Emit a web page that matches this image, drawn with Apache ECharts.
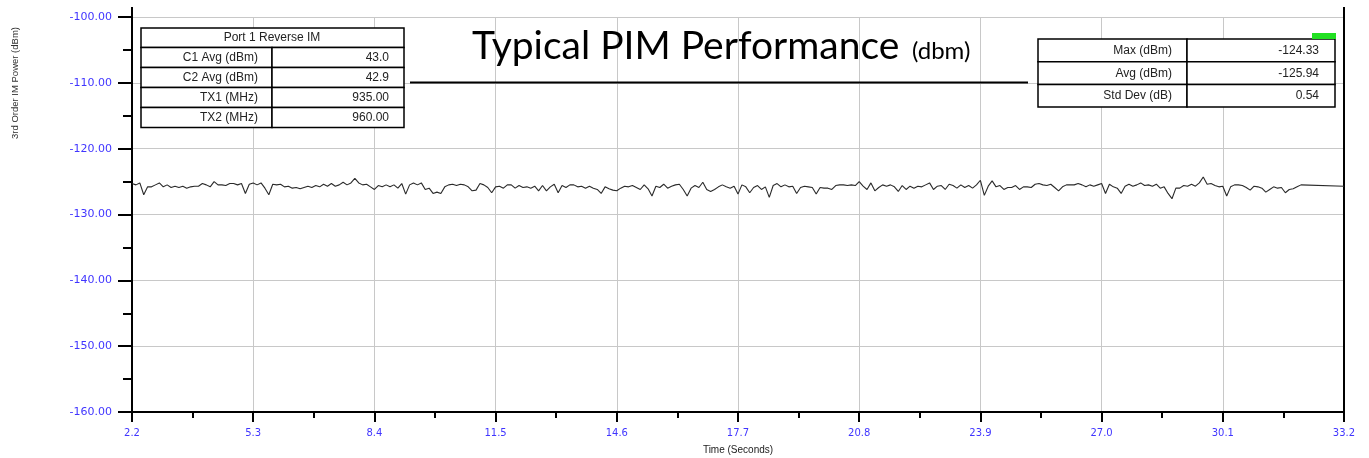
<!DOCTYPE html>
<html>
<head>
<meta charset="utf-8">
<script src="https://cdn.jsdelivr.net/npm/echarts@6/dist/echarts.min.js"></script>
<style>
  html, body { margin: 0; padding: 0; background: #fff; }
  #main { width: 1369px; height: 458px; }
</style>
</head>
<body>
<div id="main"></div>
<script>
// sampled reverse IM power, one reading every TIME_STEP seconds from TIME_START
var TIME_START = 2.2;
var TIME_STEP = 0.1;
var IM_POWER = [
  -125.3,-125.5,-125.2,-127.0,-125.8,-125.8,-125.5,-125.2,-125.8,-125.5,
  -125.9,-125.7,-125.9,-125.7,-126.0,-125.8,-125.7,-125.7,-125.3,-125.5,
  -125.8,-125.0,-125.5,-125.5,-125.6,-125.3,-125.3,-125.5,-125.3,-126.8,
  -125.4,-125.2,-125.5,-125.2,-126.0,-127.0,-125.4,-125.5,-125.4,-125.8,
  -125.7,-126.0,-125.9,-126.1,-125.9,-125.7,-125.9,-125.6,-125.8,-125.4,
  -125.7,-125.3,-125.7,-125.5,-125.1,-125.5,-125.2,-124.5,-125.2,-125.5,
  -125.4,-125.8,-126.2,-125.6,-125.8,-125.5,-125.8,-125.5,-126.0,-125.3,
  -126.9,-125.5,-125.2,-125.5,-125.2,-126.2,-126.0,-126.8,-126.6,
  -126.8,-125.8,-125.5,-125.4,-125.6,-125.4,-125.5,-125.8,-126.4,-126.3,
  -125.3,-125.5,-125.9,-126.7,-125.8,-125.7,-126.0,-125.5,-125.5,-126.0,
  -125.6,-125.9,-125.8,-126.0,-125.7,-126.4,-125.6,-126.4,-125.8,-125.4,
  -126.7,-125.6,-125.9,-125.5,-125.5,-125.8,-125.7,-126.0,-125.7,-126.0,
  -126.2,-126.8,-125.8,-126.1,-126.3,-126.4,-126.0,-125.7,-125.8,-125.6,
  -125.9,-126.2,-125.5,-126.1,-127.2,-125.7,-125.9,-125.4,-126.0,-125.7,
  -125.5,-125.4,-126.2,-127.2,-126.0,-125.6,-125.9,-125.1,-126.2,-126.5,
  -126.2,-125.8,-125.5,-125.8,-126.0,-125.7,-126.9,
  -125.5,-125.8,-126.7,-125.9,-125.6,-126.2,-125.8,-127.4,-125.6,-125.3,
  -125.8,-125.5,-125.8,-125.7,-126.8,-125.9,-125.7,-125.8,-125.9,-126.9,
  -125.9,-126.0,-126.0,-126.2,-125.6,-125.5,-125.5,-125.6,-125.5,-125.6,
  -125.0,-125.7,-126.2,-125.2,-126.4,-125.9,-125.5,-125.7,-125.5,-125.8,
  -126.5,-125.6,-126.2,-125.7,-126.0,-125.7,-125.8,-125.5,-125.2,-126.2,
  -125.7,-125.6,-126.2,-125.4,-125.6,-126.0,-125.5,-125.9,-125.6,-126.0,
  -125.5,-124.8,-127.1,-125.7,-124.9,-125.8,-125.6,-126.2,-125.9,-125.9,
  -125.6,-126.2,-125.8,-125.8,-125.9,-125.4,
  -125.3,-125.5,-125.6,-125.4,-125.9,-126.4,-125.8,-125.5,-125.5,-125.5,
  -125.3,-125.5,-125.8,-125.5,-125.7,-125.5,-125.3,-126.8,-125.4,-125.8,
  -126.0,-126.8,-125.7,-125.4,-125.7,-125.5,-125.2,-125.6,-125.5,-125.7,
  -125.4,-126.0,-125.8,-126.8,-127.6,-126.0,-126.0,-125.6,-125.7,-125.4,
  -125.7,-125.2,-124.3,-125.4,-125.3,-125.6,-125.8,-125.7,-127.2,-125.8,
  -125.5,-125.5,-125.6,-125.9,-126.3,-125.7,-125.8,-126.0,-126.6,-126.2,
  -125.8,-126.0,-125.9,-126.7,-126.2,-126.1,-125.8,-125.5
];
// trailing reading held to the end of the axis
var END_TIME = 33.2;
var END_VALUE = -125.7;

var X_MIN = 2.2, X_MAX = 33.2, X_STEP = 3.1;
var Y_MIN = -160, Y_MAX = -100, Y_STEP = 10;

var SETUP_LABELS = ['C1 Avg (dBm)', 'C2 Avg (dBm)', 'TX1 (MHz)', 'TX2 (MHz)'];
var SETUP_VALUES = ['43.0', '42.9', '935.00', '960.00'];
var STAT_LABELS = ['Max (dBm)', 'Avg (dBm)', 'Std Dev (dB)'];
var STAT_VALUES = ['-124.33', '-125.94', '0.54'];

var data = [];
for (var i = 0; i < IM_POWER.length; i++) {
  data.push([+(TIME_START + i * TIME_STEP).toFixed(2), IM_POWER[i]]);
}
data.push([END_TIME, END_VALUE]);

var BLUE = '#4035ff';
var TXT = '#222';
var tableFont = '12px "Liberation Sans", Arial, sans-serif';
var axisFont = '"DejaVu Sans", Verdana, sans-serif';

function cell(x, y, w, h) {
  return {
    type: 'rect', shape: { x: x, y: y, width: w, height: h },
    style: { fill: '#fff', stroke: '#000', lineWidth: 1.5 }, z: 100
  };
}
function label(x, y, text, align) {
  return {
    type: 'text', x: x, y: y, z: 101,
    style: { text: text, font: tableFont, fill: TXT, align: align, verticalAlign: 'middle' }
  };
}

var graphics = [];
// left table
graphics.push(cell(141, 28, 263, 19.5));
graphics.push(label(272, 38, 'Port 1 Reverse IM', 'center'));
for (var r = 0; r < SETUP_LABELS.length; r++) {
  var ry = 47.5 + r * 20;
  graphics.push(cell(141, ry, 131, 20));
  graphics.push(cell(272, ry, 132, 20));
  graphics.push(label(258, ry + 10, SETUP_LABELS[r], 'right'));
  graphics.push(label(389, ry + 10, SETUP_VALUES[r], 'right'));
}
// right table
for (var s = 0; s < STAT_LABELS.length; s++) {
  var sy = 39 + s * 22.7;
  graphics.push(cell(1038, sy, 149, 22.7));
  graphics.push(cell(1187, sy, 148, 22.7));
  graphics.push(label(1172, sy + 11.5, STAT_LABELS[s], 'right'));
  graphics.push(label(1319, sy + 11.5, STAT_VALUES[s], 'right'));
}
graphics.push({
  type: 'rect', shape: { x: 1312, y: 33, width: 24, height: 6 },
  style: { fill: '#22e022' }, z: 102
});
// title + rule
graphics.push({
  type: 'text', x: 472, y: 46, z: 50,
  style: { text: 'Typical PIM Performance', font: '39px Lato, "Open Sans", sans-serif', fill: '#000', verticalAlign: 'middle' }
});
graphics.push({
  type: 'text', x: 912, y: 51, z: 50,
  style: { text: '(dbm)', font: '24px Lato, "Open Sans", sans-serif', fill: '#000', verticalAlign: 'middle' }
});
graphics.push({
  type: 'line', shape: { x1: 410, y1: 82.5, x2: 1028, y2: 82.5 },
  style: { stroke: '#000', lineWidth: 2 }, z: 50
});
// axis frame continues a little above the top tick
graphics.push({ type: 'line', shape: { x1: 132, y1: 7, x2: 132, y2: 17 }, style: { stroke: '#000', lineWidth: 2 } });
graphics.push({ type: 'line', shape: { x1: 1344, y1: 7, x2: 1344, y2: 17 }, style: { stroke: '#000', lineWidth: 2 } });
// y axis title
graphics.push({
  type: 'text', x: 15, y: 83, rotation: Math.PI / 2,
  style: { text: '3rd Order IM Power (dBm)', font: '9.5px "Liberation Sans", Arial, sans-serif', fill: '#333', align: 'center', verticalAlign: 'middle' }
});

var option = {
  animation: false,
  backgroundColor: '#fff',
  grid: { left: 132, right: 25, top: 17, bottom: 46, outerBoundsMode: 'none', containLabel: false },
  xAxis: {
    type: 'value', min: X_MIN, max: X_MAX, interval: X_STEP,
    name: 'Time (Seconds)', nameLocation: 'middle', nameGap: 33,
    nameTextStyle: { color: TXT, fontSize: 10, fontFamily: '"Liberation Sans", Arial' },
    axisLine: { lineStyle: { color: '#000', width: 2 } },
    axisTick: { length: 10, lineStyle: { color: '#000', width: 2 } },
    minorTick: { show: true, splitNumber: 2, length: 6, lineStyle: { color: '#000', width: 2 } },
    axisLabel: {
      color: BLUE, fontSize: 10, margin: 16, fontFamily: axisFont,
      formatter: function (v) { return v.toFixed(1); }
    },
    splitLine: { show: true, lineStyle: { color: '#c8c8c8', width: 1 } }
  },
  yAxis: [{
    type: 'value', min: Y_MIN, max: Y_MAX, interval: Y_STEP,
    axisLine: { show: true, lineStyle: { color: '#000', width: 2 } },
    axisTick: { show: true, length: 14, lineStyle: { color: '#000', width: 2 } },
    minorTick: { show: true, splitNumber: 2, length: 9, lineStyle: { color: '#000', width: 2 } },
    axisLabel: {
      color: BLUE, fontSize: 11, margin: 20, fontFamily: axisFont,
      formatter: function (v) { return v.toFixed(2); }
    },
    splitLine: { show: true, lineStyle: { color: '#c8c8c8', width: 1 } }
  }, {
    type: 'value', min: Y_MIN, max: Y_MAX, interval: Y_STEP, position: 'right',
    axisLine: { show: true, lineStyle: { color: '#000', width: 2 } },
    axisTick: { show: false }, axisLabel: { show: false }, splitLine: { show: false }
  }],
  graphic: graphics,
  series: [{
    type: 'line',
    data: data,
    showSymbol: false,
    symbol: 'none',
    lineStyle: { color: '#2a2a2a', width: 1.1 },
    z: 10
  }]
};

var myChart = echarts.init(document.getElementById('main'));
myChart.setOption(option);
</script>
</body>
</html>
